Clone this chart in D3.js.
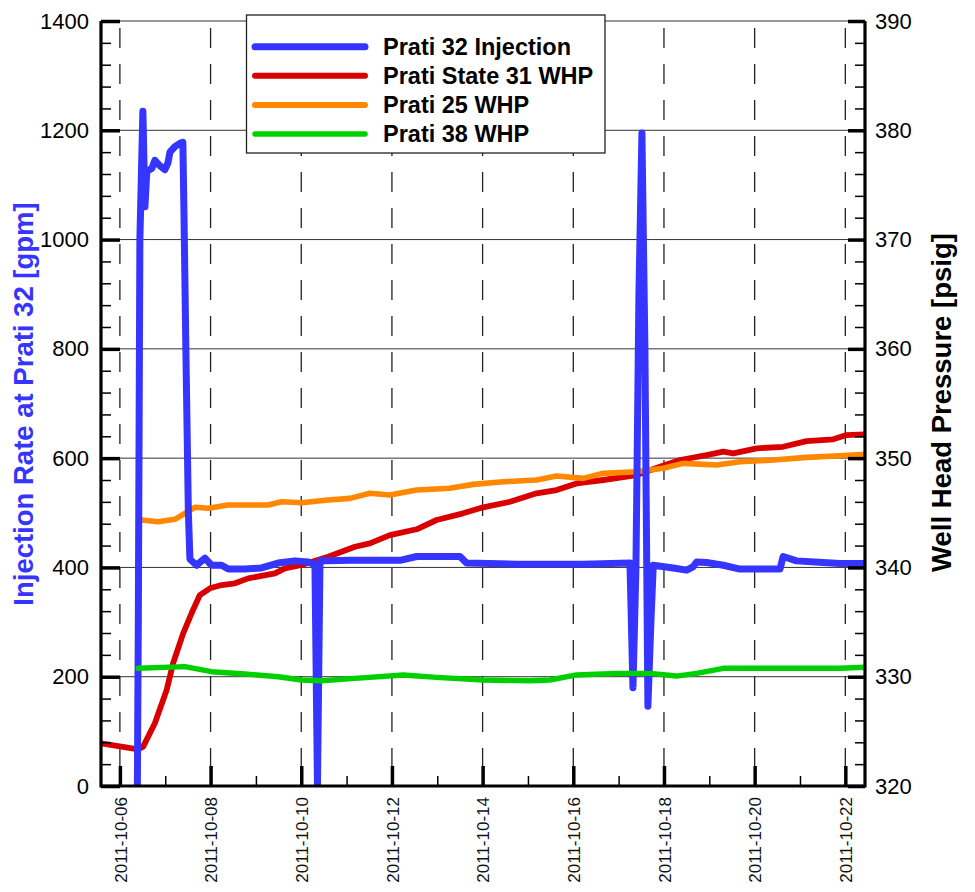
<!DOCTYPE html>
<html>
<head>
<meta charset="utf-8">
<script src="https://cdn.jsdelivr.net/npm/d3@7"></script>
<style>
  body { margin: 0; background: #fff; }
  svg { display: block; font-family: "Liberation Sans", Arial, sans-serif; }
</style>
</head>
<body>
<svg id="chart" width="975" height="892"></svg>
<script>
// Injection rate at Prati 32 [gpm]
const injection = [
  ["2011-10-06 09:15", 0], ["2011-10-06 09:45", 300], ["2011-10-06 10:35", 1000],
  ["2011-10-06 12:10", 1235], ["2011-10-06 13:15", 1060], ["2011-10-06 14:15", 1125],
  ["2011-10-06 16:55", 1130], ["2011-10-06 18:30", 1145], ["2011-10-06 21:10", 1135],
  ["2011-10-06 23:50", 1128], ["2011-10-07 01:25", 1140], ["2011-10-07 02:30", 1160],
  ["2011-10-07 05:05", 1170], ["2011-10-07 07:45", 1176], ["2011-10-07 09:20", 1178],
  ["2011-10-07 09:55", 1050], ["2011-10-07 10:55", 800], ["2011-10-07 12:15", 500],
  ["2011-10-07 13:05", 415], ["2011-10-07 16:35", 404], ["2011-10-07 21:00", 417],
  ["2011-10-08 00:30", 404], ["2011-10-08 05:50", 404], ["2011-10-08 09:20", 397],
  ["2011-10-08 18:10", 397], ["2011-10-09 03:00", 399], ["2011-10-09 11:40", 408],
  ["2011-10-09 20:40", 412], ["2011-10-10 03:40", 410], ["2011-10-10 07:15", 405],
  ["2011-10-10 08:35", 0], ["2011-10-10 09:55", 412], ["2011-10-10 14:05", 412],
  ["2011-10-11 01:45", 413], ["2011-10-12 04:15", 413], ["2011-10-12 13:05", 420],
  ["2011-10-13 12:00", 420], ["2011-10-13 15:30", 408], ["2011-10-14 18:00", 406],
  ["2011-10-16 05:05", 406], ["2011-10-17 06:00", 408], ["2011-10-17 07:35", 180],
  ["2011-10-17 09:10", 400], ["2011-10-17 10:45", 900], ["2011-10-17 12:20", 1195],
  ["2011-10-17 13:55", 800], ["2011-10-17 15:30", 146], ["2011-10-17 17:05", 300],
  ["2011-10-17 18:20", 404], ["2011-10-18 04:55", 399], ["2011-10-18 12:00", 395],
  ["2011-10-18 15:20", 401], ["2011-10-18 17:20", 410], ["2011-10-18 22:35", 409],
  ["2011-10-19 07:25", 404], ["2011-10-19 16:10", 397], ["2011-10-20 13:25", 397],
  ["2011-10-20 15:05", 420], ["2011-10-20 22:10", 412], ["2011-10-21 12:20", 409],
  ["2011-10-21 21:10", 407], ["2011-10-22 10:25", 407]
];

// Well head pressures [psig]
const state31 = [
  ["2011-10-05 14:00", 323.9], ["2011-10-06 09:40", 323.36], ["2011-10-06 12:20", 323.6],
  ["2011-10-06 18:30", 325.74], ["2011-10-07 00:45", 328.78], ["2011-10-07 04:10", 331.23],
  ["2011-10-07 09:30", 333.97], ["2011-10-07 13:55", 335.8], ["2011-10-07 18:20", 337.47],
  ["2011-10-07 23:40", 338.09], ["2011-10-08 05:50", 338.39], ["2011-10-08 12:55", 338.55],
  ["2011-10-08 19:55", 339.0], ["2011-10-09 10:05", 339.46], ["2011-10-09 15:20", 339.92],
  ["2011-10-10 00:10", 340.22], ["2011-10-10 14:15", 340.98], ["2011-10-11 04:25", 341.89],
  ["2011-10-11 12:20", 342.2], ["2011-10-11 22:55", 342.96], ["2011-10-12 13:05", 343.49],
  ["2011-10-12 23:40", 344.34], ["2011-10-13 13:40", 344.95], ["2011-10-14 00:20", 345.5],
  ["2011-10-14 14:30", 346.01], ["2011-10-15 04:35", 346.78], ["2011-10-15 15:10", 347.08],
  ["2011-10-16 01:45", 347.69], ["2011-10-16 15:55", 348.0], ["2011-10-17 09:30", 348.45],
  ["2011-10-17 21:55", 349.21], ["2011-10-18 08:30", 349.83], ["2011-10-18 22:35", 350.28],
  ["2011-10-19 07:25", 350.59], ["2011-10-19 12:40", 350.44], ["2011-10-20 01:05", 350.9],
  ["2011-10-20 15:05", 351.04], ["2011-10-21 03:30", 351.56], ["2011-10-21 17:35", 351.72],
  ["2011-10-22 00:40", 352.11], ["2011-10-22 10:25", 352.18]
];
const prati25 = [
  ["2011-10-06 11:30", 344.34], ["2011-10-06 20:15", 344.18], ["2011-10-07 05:05", 344.4],
  ["2011-10-07 10:25", 344.95], ["2011-10-07 15:40", 345.5], ["2011-10-07 22:45", 345.41],
  ["2011-10-08 09:20", 345.71], ["2011-10-09 06:30", 345.71], ["2011-10-09 13:35", 346.01],
  ["2011-10-10 00:10", 345.92], ["2011-10-10 14:15", 346.17], ["2011-10-11 01:45", 346.32],
  ["2011-10-11 12:20", 346.78], ["2011-10-11 22:55", 346.62], ["2011-10-12 13:05", 347.08],
  ["2011-10-13 06:40", 347.24], ["2011-10-13 19:00", 347.6], ["2011-10-14 10:55", 347.84],
  ["2011-10-15 04:35", 348.0], ["2011-10-15 15:10", 348.36], ["2011-10-16 05:15", 348.15],
  ["2011-10-16 15:55", 348.61], ["2011-10-17 09:30", 348.76], ["2011-10-17 23:35", 349.07],
  ["2011-10-18 10:10", 349.52], ["2011-10-19 03:55", 349.37], ["2011-10-19 16:10", 349.67],
  ["2011-10-20 09:50", 349.83], ["2011-10-21 03:30", 350.07], ["2011-10-21 21:10", 350.22],
  ["2011-10-22 10:25", 350.35]
];
const prati38 = [
  ["2011-10-06 09:40", 330.77], ["2011-10-07 10:25", 330.92], ["2011-10-08 00:30", 330.46],
  ["2011-10-08 18:10", 330.25], ["2011-10-09 11:50", 330.0], ["2011-10-10 00:10", 329.7],
  ["2011-10-10 10:45", 329.63], ["2011-10-11 04:25", 329.85], ["2011-10-12 06:00", 330.16],
  ["2011-10-12 23:40", 329.94], ["2011-10-14 00:20", 329.7], ["2011-10-15 01:00", 329.63],
  ["2011-10-15 11:35", 329.7], ["2011-10-16 01:45", 330.16], ["2011-10-16 23:00", 330.31],
  ["2011-10-17 16:35", 330.31], ["2011-10-18 06:40", 330.06], ["2011-10-18 17:20", 330.31],
  ["2011-10-19 07:25", 330.77], ["2011-10-20 09:50", 330.77], ["2011-10-21 21:10", 330.77],
  ["2011-10-22 10:25", 330.86]
];

// Axis ranges and tick labels
const timeRange = ["2011-10-05 14:00", "2011-10-22 10:25"];
const dateTicks = ["2011-10-06", "2011-10-08", "2011-10-10", "2011-10-12", "2011-10-14",
                   "2011-10-16", "2011-10-18", "2011-10-20", "2011-10-22"];
const dateMinorTicks = ["2011-10-07", "2011-10-09", "2011-10-11", "2011-10-13",
                        "2011-10-15", "2011-10-17", "2011-10-19", "2011-10-21"];
const rateTicks = [0, 200, 400, 600, 800, 1000, 1200, 1400];
const pressureTicks = [320, 330, 340, 350, 360, 370, 380, 390];

const legendItems = [
  { label: "Prati 32 Injection", color: "#3535ff", width: 7 },
  { label: "Prati State 31 WHP", color: "#d80000", width: 6 },
  { label: "Prati 25 WHP", color: "#ff8800", width: 6 },
  { label: "Prati 38 WHP", color: "#00d000", width: 5.5 }
];

const parseTime = d3.utcParse("%Y-%m-%d %H:%M");
const parseDay = d3.utcParse("%Y-%m-%d");
const fmtDay = d3.utcFormat("%Y-%m-%d");

const L = 101, T = 21, R = 865, B = 786;
const svg = d3.select("#chart");

const x = d3.scaleUtc().domain(timeRange.map(parseTime)).range([L, R]);
const yRate = d3.scaleLinear().domain([0, 1400]).range([B, T]);
const yPres = d3.scaleLinear().domain([320, 390]).range([B, T]);

// Grid: solid horizontal lines at major rate ticks, dashed verticals at labelled dates
const grid = svg.append("g");
grid.selectAll("line.h").data(rateTicks).join("line")
  .attr("x1", L).attr("x2", R)
  .attr("y1", d => yRate(d)).attr("y2", d => yRate(d))
  .attr("stroke", "#333").attr("stroke-width", 1);
grid.selectAll("line.v").data(dateTicks.map(parseDay)).join("line")
  .attr("x1", d => x(d)).attr("x2", d => x(d))
  .attr("y1", T).attr("y2", B)
  .attr("stroke", "#222").attr("stroke-width", 1.3)
  .attr("stroke-dasharray", "20,16").attr("stroke-dashoffset", 29);

// Data lines
svg.append("clipPath").attr("id", "plot-clip")
  .append("rect").attr("x", L).attr("y", T - 10).attr("width", R - L).attr("height", B - T + 10);

const toPoints = arr => arr.map(([t, v]) => ({ t: parseTime(t), v }));
const lineRate = d3.line().x(d => x(d.t)).y(d => yRate(d.v));
const linePres = d3.line().x(d => x(d.t)).y(d => yPres(d.v));

const plot = svg.append("g").attr("clip-path", "url(#plot-clip)")
  .attr("fill", "none").attr("stroke-linecap", "round").attr("stroke-linejoin", "round");

plot.append("path").attr("d", linePres(toPoints(state31)))
  .attr("stroke", legendItems[1].color).attr("stroke-width", 5.8);
plot.append("path").attr("d", linePres(toPoints(prati25)))
  .attr("stroke", legendItems[2].color).attr("stroke-width", 5.6);
plot.append("path").attr("d", lineRate(toPoints(injection)))
  .attr("stroke", legendItems[0].color).attr("stroke-width", 7);
plot.append("path").attr("d", linePres(toPoints(prati38)))
  .attr("stroke", legendItems[3].color).attr("stroke-width", 5.4);

// Axes (ticks point into the plot)
const tickFont = g => g.selectAll("text")
  .attr("font-size", 22).attr("fill", "#000")
  .attr("font-family", "'Liberation Sans', Arial, sans-serif");

const styleTicks = (g, w) => {
  g.select(".domain").remove();
  g.selectAll(".tick line").attr("stroke", "#000").attr("stroke-width", w);
};

// Left axis: rate
svg.append("g").attr("transform", `translate(${L},0)`)
  .call(d3.axisLeft(yRate).tickValues(d3.range(0, 1401, 40).filter(v => v % 200 !== 0))
    .tickSize(-10).tickFormat(""))
  .call(g => styleTicks(g, 1.5));
svg.append("g").attr("transform", `translate(${L},0)`)
  .call(d3.axisLeft(yRate).tickValues(rateTicks).tickSize(-19).tickPadding(12)
    .tickFormat(d3.format("d")))
  .call(g => styleTicks(g, 3.5))
  .call(tickFont);

// Right axis: pressure
svg.append("g").attr("transform", `translate(${R},0)`)
  .call(d3.axisRight(yPres).tickValues(d3.range(320, 391, 2).filter(v => v % 10 !== 0))
    .tickSize(-10).tickFormat(""))
  .call(g => styleTicks(g, 1.5));
svg.append("g").attr("transform", `translate(${R},0)`)
  .call(d3.axisRight(yPres).tickValues(pressureTicks).tickSize(-17).tickPadding(10)
    .tickFormat(d3.format("d")))
  .call(g => styleTicks(g, 3.5))
  .call(tickFont);

// Bottom axis: dates
svg.append("g").attr("transform", `translate(0,${B})`)
  .call(d3.axisBottom(x).tickValues(dateMinorTicks.map(parseDay)).tickSize(-10).tickFormat(""))
  .call(g => styleTicks(g, 1.5));
svg.append("g").attr("transform", `translate(0,${B})`)
  .call(d3.axisBottom(x).tickValues(dateTicks.map(parseDay)).tickSize(-20).tickFormat(fmtDay))
  .call(g => styleTicks(g, 3.5))
  .call(g => g.selectAll("text")
    .attr("transform", "rotate(-90)")
    .attr("x", -11).attr("y", 0).attr("dy", "0.36em")
    .attr("text-anchor", "end")
    .attr("font-size", 17).attr("fill", "#111")
    .attr("font-family", "'Liberation Sans', Arial, sans-serif"));

// Frame
svg.append("path")
  .attr("d", `M${L},${T}V${B}H${R}V${T}`)
  .attr("fill", "none").attr("stroke", "#000").attr("stroke-width", 3.2)
  .attr("stroke-linejoin", "miter");

// Axis titles
svg.append("text")
  .attr("transform", `translate(33,${(T + B) / 2 + 0.5}) rotate(-90)`)
  .attr("text-anchor", "middle")
  .attr("font-size", 27.5).attr("font-weight", "bold").attr("fill", "#3535ff")
  .text("Injection Rate at Prati 32 [gpm]");
svg.append("text")
  .attr("transform", `translate(951,${(T + B) / 2 - 1}) rotate(-90)`)
  .attr("text-anchor", "middle")
  .attr("font-size", 27.5).attr("font-weight", "bold").attr("fill", "#000")
  .text("Well Head Pressure [psig]");

// Legend
const legend = svg.append("g");
legend.append("rect")
  .attr("x", 246.5).attr("y", 15).attr("width", 358.5).attr("height", 138)
  .attr("fill", "#fff").attr("stroke", "#222").attr("stroke-width", 1.3);
const rows = legend.selectAll("g.row").data(legendItems).join("g")
  .attr("transform", (d, i) => `translate(0,${46.7 + i * 29.1})`);
rows.append("line")
  .attr("x1", 255).attr("x2", 365)
  .attr("stroke", d => d.color).attr("stroke-width", d => d.width)
  .attr("stroke-linecap", "round");
rows.append("text")
  .attr("x", 383).attr("dy", "0.36em")
  .attr("font-size", 23.5).attr("font-weight", "bold").attr("fill", "#000")
  .text(d => d.label);
</script>
</body>
</html>
